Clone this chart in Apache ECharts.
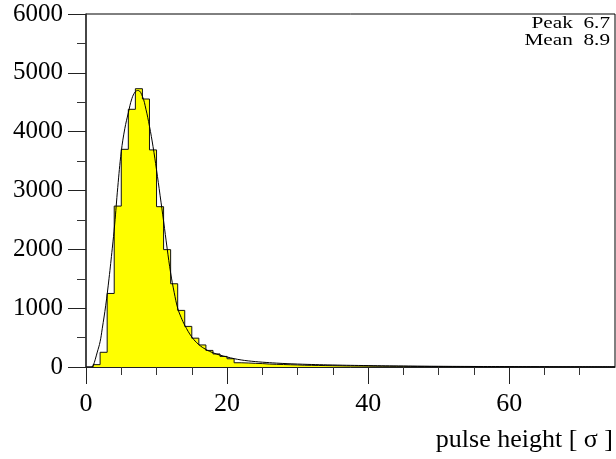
<!DOCTYPE html>
<html><head><meta charset="utf-8">
<script src="https://cdn.jsdelivr.net/npm/echarts@6/dist/echarts.min.js"></script>
<style>html,body{margin:0;padding:0;background:#fff}#c{width:616px;height:459px}</style>
</head><body><div id="c"></div>
<script>
// histogram counts, bins of width 1 starting at 0 (bin i = [i, i+1))
const counts = [0,40,250,1250,2735,3700,4380,4730,4555,3690,2725,1995,1415,962,690,490,375,282,222,180,
  140,72,68,62,58,50,45,42,38,35,30,28,26,24,22,20,18,17,16,15,14,13,12,11,11,10,9,9,8,8,7,7,6,6,5,
  0,0,0,0,0,0,0,0,0,0,0,0,0,0,0,0,0,0,0,0];
// fitted curve
const fitX = [0.8,1,1.6,2,2.3,2.8,3.26,3.73,4.06,4.5,5,5.5,6,6.5,7,7.4,8,8.5,9,9.5,10,10.5,11,11.5,12,12.5,13,13.5,14,15,16,17,18,19,20,21,22,23,24,25,27,30,35,40,45,50,55,60,65,70,75];
const fitY = [0,15,253,430,650,1050,1500,2020,2415,3050,3660,4050,4320,4560,4680,4700,4600,4380,4092,3750,3350,2920,2480,2020,1600,1270,1000,840,710,510,380,298,242,202,170,142,120,104,92,82,66,50,34,24,17,12,9,7,5,4,3];
const xMajorTicks = [0,20,40,60];
const xMinorTicks = [5,10,15,25,30,35,45,50,55,65,70];
const xRange = [0,75];
const yRange = [0,6000];
const yStep = 1000;
const peakText = 'Peak  6.7';
const meanText = 'Mean  8.9';
const xTitle = 'pulse height [ σ ]';

const stepPts = [];
counts.forEach((c, i) => { stepPts.push([i, c]); stepPts.push([i + 1, c]); });
const fitPts = fitX.map((x, i) => [x, fitY[i]]);

const font = '"Liberation Serif", "Times New Roman", serif';
const chart = echarts.init(document.getElementById('c'), null, {renderer: 'canvas'});
chart.setOption({
  animation: false,
  backgroundColor: '#fff',
  grid: {left: 86, right: 1, top: 14, bottom: 92, show: true, borderColor: '#000', borderWidth: 1, backgroundColor: 'transparent'},
  xAxis: [
    {type: 'value', min: xRange[0], max: xRange[1], position: 'bottom',
     axisLine: {show: true, onZero: false, lineStyle: {color: '#222', width: 1}},
     axisTick: {show: true, length: 17, customValues: xMajorTicks, lineStyle: {color: '#222'}},
     axisLabel: {show: true, customValues: xMajorTicks, margin: 24, fontFamily: font, fontSize: 26, color: '#000', formatter: v => String(v)},
     splitLine: {show: false}},
    {type: 'value', min: xRange[0], max: xRange[1], position: 'bottom', gridIndex: 0,
     axisLine: {show: false},
     axisTick: {show: true, length: 8, customValues: xMinorTicks, lineStyle: {color: '#333'}},
     axisLabel: {show: false},
     splitLine: {show: false}}
  ],
  yAxis: {type: 'value', min: yRange[0], max: yRange[1], interval: yStep,
    axisLine: {show: true, onZero: false, lineStyle: {color: '#333', width: 1.5}},
    axisTick: {show: true, length: 18, lineStyle: {color: '#222'}},
    minorTick: {show: true, splitNumber: 2, length: 9, lineStyle: {color: '#333'}},
    axisLabel: {margin: 23, fontFamily: font, fontSize: 25, color: '#000', formatter: v => String(v)},
    splitLine: {show: false}},
  series: [
    {type: 'line', data: stepPts, xAxisIndex: 0, symbol: 'none',
     lineStyle: {color: '#111', width: 1}, areaStyle: {color: '#ffff00', opacity: 1}, z: 2},
    {type: 'line', data: fitPts, xAxisIndex: 0, symbol: 'none', smooth: 0.4,
     lineStyle: {color: '#000', width: 1}, z: 3}
  ],
  graphic: [
    {type: 'text', x: 610, y: 24, scaleX: 1.25, style: {text: peakText, textAlign: 'right', textVerticalAlign: 'middle', font: '17px ' + font, fill: '#000'}},
    {type: 'text', x: 610, y: 41, scaleX: 1.25, style: {text: meanText, textAlign: 'right', textVerticalAlign: 'middle', font: '17px ' + font, fill: '#000'}},
    {type: 'text', x: 613, y: 440, style: {text: xTitle, textAlign: 'right', textVerticalAlign: 'middle', font: '26px ' + font, fill: '#000'}}
  ]
});
</script></body></html>
